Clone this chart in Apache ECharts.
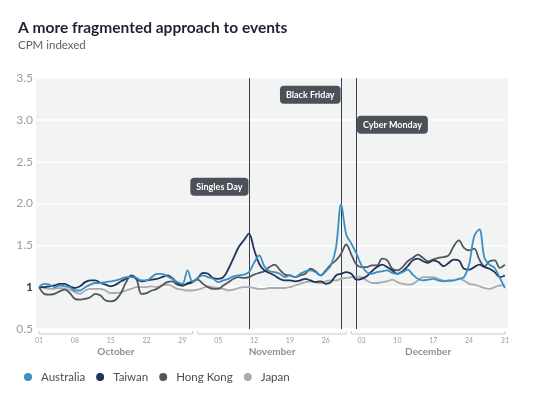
<!DOCTYPE html>
<html>
<head>
<meta charset="utf-8">
<script src="https://cdn.jsdelivr.net/npm/echarts@6/dist/echarts.min.js"></script>
<style>
  html, body { margin: 0; padding: 0; background: #fff; }
  #chart { width: 533px; height: 399px; }
</style>
</head>
<body>
<div id="chart"></div>
<script>
// day index 0 = 01 Oct 2019, 91 = 31 Dec 2019
var tickDays = [0, 7, 14, 21, 28, 35, 42, 49, 56, 63, 70, 77, 84, 91];
var tickLabels = ['01', '08', '15', '22', '29', '05', '12', '19', '26', '03', '10', '17', '24', '31'];
var months = ['October', 'November', 'December'];
var monthFirstDay = [0, 31, 61];
var monthLastDay = [30, 60, 91];

var australia = [1.00, 1.04, 1.03, 1.00, 1.02, 1.01, 1.00, 0.96, 0.96, 1.00,
  1.03, 1.05, 1.05, 1.06, 1.07, 1.08, 1.10, 1.12, 1.12, 1.11,
  1.08, 1.08, 1.12, 1.16, 1.16, 1.13, 1.10, 1.06, 1.04, 1.20,
  1.06, 1.11, 1.14, 1.12, 1.10, 1.06, 1.08, 1.10, 1.13, 1.14,
  1.15, 1.18, 1.29, 1.38, 1.25, 1.19, 1.18, 1.16, 1.12, 1.14,
  1.12, 1.16, 1.19, 1.20, 1.18, 1.14, 1.19, 1.26, 1.47, 1.99,
  1.63, 1.52, 1.40, 1.26, 1.18, 1.16, 1.18, 1.19, 1.20, 1.17,
  1.16, 1.18, 1.21, 1.15, 1.10, 1.08, 1.09, 1.10, 1.08, 1.07,
  1.08, 1.08, 1.10, 1.12, 1.27, 1.61, 1.69, 1.35, 1.27, 1.23,
  1.11, 0.99];
var taiwan = [1.00, 1.00, 1.01, 1.02, 1.04, 1.04, 1.01, 0.99, 1.01, 1.06,
  1.08, 1.08, 1.05, 1.03, 1.01, 1.03, 1.07, 1.10, 1.13, 1.10,
  1.07, 1.08, 1.09, 1.10, 1.12, 1.14, 1.11, 1.05, 1.02, 1.04,
  1.06, 1.11, 1.17, 1.16, 1.11, 1.10, 1.12, 1.22, 1.35, 1.48,
  1.56, 1.64, 1.45, 1.28, 1.20, 1.17, 1.14, 1.10, 1.08, 1.08,
  1.07, 1.08, 1.10, 1.08, 1.06, 1.07, 1.04, 1.06, 1.14, 1.16,
  1.18, 1.16, 1.09, 1.10, 1.13, 1.19, 1.24, 1.27, 1.24, 1.20,
  1.16, 1.19, 1.25, 1.32, 1.34, 1.31, 1.29, 1.32, 1.30, 1.25,
  1.29, 1.33, 1.32, 1.22, 1.21, 1.24, 1.27, 1.24, 1.22, 1.18,
  1.12, 1.14];
var hongKong = [1.00, 0.92, 0.91, 0.92, 0.95, 0.97, 0.93, 0.86, 0.85, 0.86,
  0.88, 0.92, 0.90, 0.84, 0.83, 0.85, 0.93, 1.06, 1.14, 1.10,
  0.92, 0.93, 0.96, 0.98, 1.02, 1.06, 1.07, 1.03, 1.02, 1.05,
  1.07, 1.09, 1.04, 1.00, 0.98, 0.98, 1.02, 1.06, 1.10, 1.12,
  1.11, 1.12, 1.15, 1.17, 1.19, 1.24, 1.27, 1.21, 1.15, 1.14,
  1.12, 1.14, 1.16, 1.22, 1.19, 1.14, 1.20, 1.27, 1.32, 1.40,
  1.51, 1.39, 1.27, 1.24, 1.24, 1.26, 1.26, 1.34, 1.32, 1.22,
  1.20, 1.24, 1.31, 1.35, 1.39, 1.35, 1.31, 1.33, 1.35, 1.36,
  1.38, 1.49, 1.56, 1.47, 1.44, 1.46, 1.33, 1.25, 1.31, 1.32,
  1.23, 1.27];
var japan = [1.00, 0.99, 0.98, 0.98, 0.99, 0.98, 0.97, 0.94, 0.92, 0.96,
  0.98, 0.98, 0.98, 0.96, 0.93, 0.93, 0.94, 0.96, 0.98, 1.00,
  1.00, 1.00, 1.01, 1.00, 1.02, 1.03, 1.01, 0.98, 0.97, 0.96,
  0.96, 0.97, 0.99, 1.01, 1.00, 0.99, 0.98, 0.96, 0.97, 0.99,
  1.00, 1.00, 0.99, 0.98, 0.98, 0.99, 0.99, 0.99, 0.99, 1.00,
  1.02, 1.04, 1.06, 1.07, 1.06, 1.05, 1.07, 1.08, 1.08, 1.10,
  1.11, 1.12, 1.13, 1.12, 1.08, 1.05, 1.05, 1.06, 1.07, 1.09,
  1.06, 1.04, 1.03, 1.04, 1.08, 1.12, 1.12, 1.12, 1.10, 1.08,
  1.07, 1.08, 1.10, 1.08, 1.04, 1.03, 1.01, 0.99, 0.98, 1.00,
  1.02, 1.02];

var eventNames = ['Singles Day', 'Black Friday', 'Cyber Monday'];
var eventDays = [41, 59, 62];
var eventLabelLevels = [2.2, 3.3, 2.94];

var names = ['Australia', 'Taiwan', 'Hong Kong', 'Japan'];
var colors = ['#3b8fc2', '#1c3559', '#52565f', '#a9abb0'];
var values = [australia, taiwan, hongKong, japan];

var font = 'Lato, "Open Sans", sans-serif';
var chart = echarts.init(document.getElementById('chart'));

function pairs(arr) {
  return arr.map(function (v, i) { return [i, v]; });
}

var series = names.map(function (name, k) {
  return {
    name: name,
    type: 'line',
    data: pairs(values[k]),
    smooth: 0.35,
    showSymbol: false,
    z: 10 - k,
    lineStyle: { width: 1.8, color: colors[k] },
    itemStyle: { color: colors[k] },
    emphasis: { disabled: true }
  };
});

// event markers ride on the first series
series[0].markLine = {
  silent: true,
  symbol: 'none',
  label: { show: false },
  lineStyle: { color: '#3b404b', width: 1, type: 'solid' },
  data: eventDays.map(function (d) { return { xAxis: d }; })
};
series[0].markPoint = {
  silent: true,
  symbol: 'rect',
  symbolSize: 1,
  itemStyle: { color: 'rgba(0,0,0,0)' },
  data: eventNames.map(function (n, i) {
    return {
      name: n,
      coord: [eventDays[i], eventLabelLevels[i]],
      label: { position: i == 2 ? 'right' : 'left' }
    };
  }),
  label: {
    show: true,
    formatter: '{b}',
    distance: 0,
    backgroundColor: '#4d5059',
    borderRadius: 4,
    padding: [5, 6, 4, 6],
    color: '#fff',
    fontFamily: font,
    fontSize: 9,
    fontWeight: 'bold'
  }
};

chart.setOption({
  animation: false,
  title: {
    text: 'A more fragmented approach to events',
    subtext: 'CPM indexed',
    left: 13,
    top: 15,
    itemGap: 3,
    textStyle: { fontFamily: font, fontSize: 15.5, fontWeight: 'bold', color: '#1f2330' },
    subtextStyle: { fontFamily: font, fontSize: 11.5, color: '#5a5e67' }
  },
  grid: {
    left: 36, right: 25, top: 78, bottom: 70,
    show: true, backgroundColor: '#f2f3f3', borderWidth: 0
  },
  legend: {
    data: names,
    left: 19,
    top: 366,
    icon: 'circle',
    itemWidth: 8,
    itemHeight: 8,
    itemGap: 11,
    textStyle: { fontFamily: font, fontSize: 11.5, color: '#4a4d55', padding: [0, 0, 0, 4] }
  },
  xAxis: {
    type: 'value',
    min: -0.6,
    max: 91.6,
    axisLine: { show: false },
    axisTick: { show: false },
    splitLine: { show: false },
    axisLabel: {
      customValues: tickDays,
      formatter: function (v) { return tickLabels[tickDays.indexOf(v)]; },
      margin: 8,
      fontFamily: font,
      fontSize: 7,
      color: '#9a9ca3'
    }
  },
  yAxis: {
    type: 'value',
    min: 0.5,
    max: 3.5,
    interval: 0.5,
    axisLine: { show: false },
    axisTick: { show: false },
    splitLine: { lineStyle: { color: '#ffffff', width: 1.5 } },
    axisLabel: {
      margin: 3,
      fontFamily: font,
      fontSize: 12,
      color: '#9a9ca3',
      formatter: function (v) { return v === 1 ? '{one|1}' : v.toFixed(1); },
      rich: { one: { fontFamily: font, fontSize: 12, fontWeight: 'bold', color: '#3d414b' } }
    }
  },
  series: series
});

// month brackets under the day labels
var graphics = [];
var bracketY = 334;
months.forEach(function (m, i) {
  var x0 = chart.convertToPixel({ xAxisIndex: 0 }, monthFirstDay[i]);
  var x1 = chart.convertToPixel({ xAxisIndex: 0 }, monthLastDay[i]);
  graphics.push({
    type: 'polyline',
    silent: true,
    shape: { points: [[x0, bracketY - 3], [x0, bracketY], [x1, bracketY], [x1, bracketY - 3]] },
    style: { stroke: '#c9cbce', lineWidth: 1, fill: null }
  });
  graphics.push({
    type: 'text',
    silent: true,
    x: (x0 + x1) / 2,
    y: 352,
    style: {
      text: m,
      align: 'center',
      verticalAlign: 'middle',
      font: 'bold 10px ' + font,
      fill: '#8e9097'
    }
  });
});
chart.setOption({ graphic: graphics });
</script>
</body>
</html>
